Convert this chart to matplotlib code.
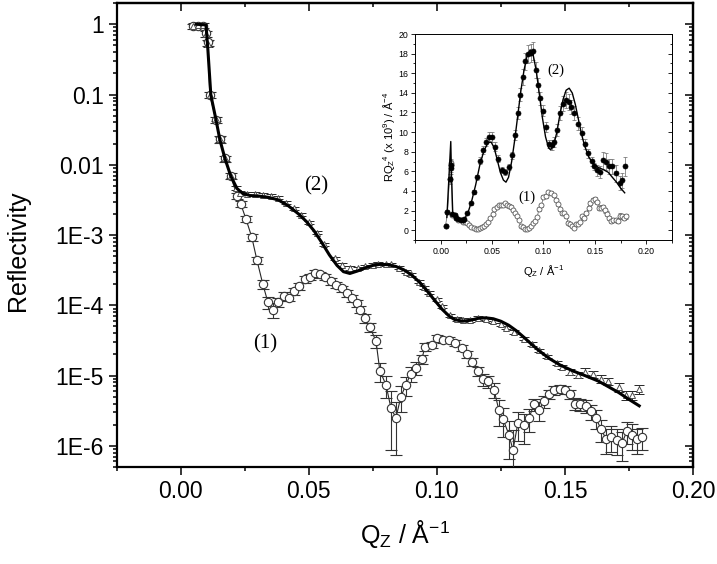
import numpy as np
import matplotlib.pyplot as plt
from matplotlib.ticker import FixedLocator, FixedFormatter, LogLocator, MultipleLocator, NullFormatter

# sample (1): open circles, Q (1/A) and reflectivity
q1 = [0.0047, 0.0066, 0.0086, 0.0098, 0.0105, 0.0113, 0.0137, 0.0152, 0.0172, 0.0195,
      0.0219, 0.0234, 0.0254, 0.0277, 0.0297, 0.0320, 0.0340, 0.0360, 0.0379, 0.0402,
      0.0422, 0.0441, 0.0461, 0.0484, 0.0504, 0.0523, 0.0543, 0.0563, 0.0586, 0.0605,
      0.0629, 0.0648, 0.0668, 0.0688, 0.0699, 0.0719, 0.0738, 0.0762, 0.0777, 0.0801,
      0.0820, 0.0840, 0.0859, 0.0879, 0.0898, 0.0918, 0.0941, 0.0953, 0.0980, 0.1000,
      0.1023, 0.1047, 0.1070, 0.1098, 0.1117, 0.1137, 0.1160, 0.1180, 0.1200, 0.1223,
      0.1242, 0.1258, 0.1281, 0.1297, 0.1316, 0.1340, 0.1359, 0.1379, 0.1398, 0.1418,
      0.1438, 0.1457, 0.1480, 0.1500, 0.1520, 0.1539, 0.1559, 0.1582, 0.1602, 0.1621,
      0.1641, 0.1660, 0.1680, 0.1703, 0.1723, 0.1742, 0.1762, 0.1781, 0.1800]
r1 = [0.93, 0.95, 0.95, 0.74, 0.55, 0.098, 0.044, 0.023, 0.0123, 0.0069,
      3.6e-3, 2.75e-3, 1.70e-3, 9.3e-4, 4.4e-4, 2.0e-4, 1.10e-4, 8.7e-5, 1.10e-4, 1.35e-4,
      1.29e-4, 1.58e-4, 1.86e-4, 2.34e-4, 2.57e-4, 2.88e-4, 2.75e-4, 2.57e-4, 2.19e-4, 1.95e-4,
      1.74e-4, 1.48e-4, 1.26e-4, 1.07e-4, 8.7e-5, 6.5e-5, 4.9e-5, 3.1e-5, 1.17e-5, 7.4e-6,
      3.5e-6, 2.5e-6, 5.0e-6, 7.4e-6, 1.07e-5, 1.29e-5, 1.70e-5, 2.57e-5, 2.75e-5, 3.4e-5,
      3.2e-5, 3.2e-5, 2.9e-5, 2.45e-5, 2.0e-5, 1.58e-5, 1.17e-5, 8.9e-6, 8.3e-6, 6.3e-6,
      3.2e-6, 2.4e-6, 1.45e-6, 8.7e-7, 2.1e-6, 1.95e-6, 2.45e-6, 3.9e-6, 3.2e-6, 4.3e-6,
      5.4e-6, 6.2e-6, 6.5e-6, 6.3e-6, 5.4e-6, 4.0e-6, 3.9e-6, 3.7e-6, 3.1e-6, 2.45e-6,
      1.74e-6, 1.26e-6, 1.35e-6, 1.23e-6, 1.10e-6, 1.62e-6, 1.45e-6, 1.26e-6, 1.35e-6]
# relative error of (1)
e1 = [0.08, 0.08, 0.08, 0.1, 0.1, 0.1, 0.1, 0.1, 0.1, 0.1,
      0.1, 0.1, 0.1, 0.12, 0.12, 0.15, 0.2, 0.25, 0.15, 0.15,
      0.12, 0.12, 0.1, 0.1, 0.1, 0.1, 0.1, 0.1, 0.1, 0.1,
      0.1, 0.1, 0.12, 0.12, 0.12, 0.15, 0.15, 0.2, 0.3, 0.35,
      0.75, 0.7, 0.4, 0.3, 0.25, 0.2, 0.15, 0.12, 0.1, 0.1,
      0.1, 0.1, 0.1, 0.1, 0.12, 0.12, 0.15, 0.2, 0.2, 0.25,
      0.4, 0.45, 0.55, 0.95, 0.45, 0.45, 0.35, 0.2, 0.3, 0.2,
      0.15, 0.15, 0.12, 0.12, 0.15, 0.2, 0.2, 0.2, 0.25, 0.3,
      0.35, 0.4, 0.4, 0.4, 0.45, 0.35, 0.4, 0.4, 0.35]

# sample (2): open triangles
q2 = [0.0047, 0.0066, 0.0086, 0.0098, 0.0105, 0.0113, 0.0137, 0.0152, 0.0172, 0.0195, 0.0215,
      0.023, 0.026, 0.029, 0.032, 0.035, 0.038, 0.041, 0.044, 0.047, 0.050,
      0.053, 0.056, 0.060, 0.063, 0.066, 0.069, 0.072, 0.075, 0.077, 0.080,
      0.082, 0.085, 0.088, 0.090, 0.093, 0.095, 0.097, 0.100, 0.102, 0.105,
      0.108, 0.110, 0.113, 0.116, 0.119, 0.122, 0.125, 0.127, 0.130, 0.134,
      0.137, 0.140, 0.143, 0.147, 0.149, 0.152, 0.155, 0.158, 0.161, 0.164,
      0.167, 0.171, 0.174, 0.176, 0.179]
r2 = [0.95, 0.96, 0.96, 0.72, 0.52, 0.10, 0.045, 0.023, 0.0125, 0.0070, 4.7e-3,
      4.0e-3, 3.9e-3, 3.85e-3, 3.75e-3, 3.6e-3, 3.40e-3, 2.90e-3, 2.40e-3, 1.95e-3, 1.52e-3,
      1.08e-3, 7.41e-4, 4.70e-4, 3.79e-4, 3.40e-4, 3.37e-4, 3.61e-4, 3.77e-4, 3.93e-4, 3.81e-4,
      3.81e-4, 3.44e-4, 3.01e-4, 2.78e-4, 2.18e-4, 1.82e-4, 1.52e-4, 1.22e-4, 9.70e-5, 7.23e-5,
      6.40e-5, 6.14e-5, 6.25e-5, 6.58e-5, 6.44e-5, 6.00e-5, 5.36e-5, 4.83e-5, 4.17e-5, 3.37e-5,
      2.81e-5, 2.29e-5, 1.87e-5, 1.50e-5, 1.32e-5, 1.14e-5, 1.03e-5, 1.14e-5, 1.04e-5, 9.0e-6,
      8.36e-6, 6.78e-6, 5.22e-6, 5.31e-6, 6.34e-6]
e2 = [0.1, 0.1, 0.1, 0.1, 0.1, 0.1, 0.08, 0.08, 0.08, 0.08, 0.06,
      0.05, 0.05, 0.05, 0.05, 0.05, 0.05, 0.05, 0.05, 0.05, 0.05,
      0.05, 0.05, 0.05, 0.05, 0.05, 0.05, 0.05, 0.05, 0.05, 0.05,
      0.05, 0.05, 0.05, 0.05, 0.05, 0.05, 0.05, 0.05, 0.05, 0.05,
      0.06, 0.06, 0.06, 0.06, 0.06, 0.06, 0.06, 0.06, 0.06, 0.06,
      0.06, 0.06, 0.06, 0.06, 0.06, 0.1, 0.1, 0.12, 0.12, 0.12,
      0.12, 0.15, 0.15, 0.15, 0.15]

# model fit for (2)
q_fit = [0.006, 0.0098, 0.0105, 0.0117, 0.0137, 0.0152, 0.0172, 0.0195, 0.0219, 0.0242,
         0.027, 0.030, 0.034, 0.038, 0.042, 0.046, 0.049, 0.052, 0.055, 0.058,
         0.061, 0.0635, 0.066, 0.069, 0.072, 0.075, 0.078, 0.081, 0.084, 0.087,
         0.090, 0.093, 0.096, 0.099, 0.102, 0.105, 0.107, 0.110, 0.113, 0.116,
         0.119, 0.122, 0.125, 0.128, 0.131, 0.134, 0.137, 0.140, 0.144, 0.148,
         0.153, 0.158, 0.163, 0.167, 0.171, 0.175, 0.179]
r_fit = [1.0, 0.98, 0.46, 0.098, 0.044, 0.023, 0.0123, 0.0069, 4.6e-3, 3.9e-3,
         3.65e-3, 3.6e-3, 3.45e-3, 3.17e-3, 2.60e-3, 1.99e-3, 1.56e-3, 1.15e-3, 7.85e-4, 5.21e-4,
         3.69e-4, 3.01e-4, 2.84e-4, 3.08e-4, 3.42e-4, 3.70e-4, 3.84e-4, 3.78e-4, 3.57e-4, 3.21e-4,
         2.72e-4, 2.17e-4, 1.63e-4, 1.19e-4, 8.79e-5, 6.90e-5, 6.25e-5, 5.94e-5, 6.12e-5, 6.52e-5,
         6.64e-5, 6.44e-5, 5.93e-5, 5.21e-5, 4.35e-5, 3.50e-5, 2.78e-5, 2.24e-5, 1.74e-5, 1.42e-5,
         1.17e-5, 9.93e-6, 8.36e-6, 6.93e-6, 5.73e-6, 4.58e-6, 3.71e-6]

ytick_vals = [1, 0.1, 0.01, 1e-3, 1e-4, 1e-5, 1e-6]
ytick_labels = ['1', '0.1', '0.01', '1E-3', '1E-4', '1E-5', '1E-6']

plt.rcParams['font.family'] = ['Liberation Sans', 'DejaVu Sans']
plt.rcParams['mathtext.fontset'] = 'custom'
plt.rcParams['mathtext.rm'] = 'Liberation Sans'
plt.rcParams['mathtext.it'] = 'Liberation Sans'

q1 = np.array(q1); r1 = np.array(r1); e1 = np.array(e1)
q2 = np.array(q2); r2 = np.array(r2); e2 = np.array(e2)
q_fit = np.array(q_fit); r_fit = np.array(r_fit)

fig = plt.figure(figsize=(7.17, 5.64), dpi=100)
ax = fig.add_axes([0.163, 0.172, 0.8035, 0.8225])

ax.plot(q1, r1, '-', color='0.15', lw=0.8, zorder=2)
ax.errorbar(q1, r1, yerr=r1 * e1, fmt='o', ms=6, mfc='white', mec='0.2', mew=0.8,
            ecolor='0.2', elinewidth=0.8, capsize=4.5, capthick=0.9, zorder=3)
ax.errorbar(q2, r2, yerr=r2 * e2, fmt='^', ms=4.5, mfc='white', mec='0.3', mew=0.7,
            ecolor='0.15', elinewidth=0.7, capsize=3.5, capthick=0.8, zorder=3)
ax.plot(q_fit, r_fit, 'k-', lw=2.2, zorder=4)

ax.set_yscale('log')
ax.set_xlim(-0.025, 0.20)
ax.set_ylim(5e-7, 2)
ax.set_xticks([0.0, 0.05, 0.10, 0.15, 0.20])
ax.set_xticklabels(['0.00', '0.05', '0.10', '0.15', '0.20'])
ax.xaxis.set_minor_locator(MultipleLocator(0.025))
ax.yaxis.set_major_locator(FixedLocator(ytick_vals))
ax.yaxis.set_major_formatter(FixedFormatter(ytick_labels))
ax.yaxis.set_minor_locator(LogLocator(base=10, subs=np.arange(2, 10)))
ax.yaxis.set_minor_formatter(NullFormatter())
ax.tick_params(which='both', direction='out', labelsize=16.5, width=1.1)
ax.tick_params(which='major', length=6)
ax.tick_params(which='minor', length=3)
for s in ax.spines.values():
    s.set_linewidth(1.6)

# mirrored ticks pointing inward on top and right
top = ax.secondary_xaxis('top')
top.set_xticks([0.0, 0.05, 0.10, 0.15, 0.20])
top.xaxis.set_minor_locator(MultipleLocator(0.025))
top.tick_params(which='both', direction='in', labeltop=False, width=1.1)
top.tick_params(which='major', length=6)
top.tick_params(which='minor', length=3)
right = ax.secondary_yaxis('right')
right.yaxis.set_major_locator(FixedLocator(ytick_vals))
right.yaxis.set_minor_locator(LogLocator(base=10, subs=np.arange(2, 10)))
right.yaxis.set_minor_formatter(NullFormatter())
right.tick_params(which='both', direction='in', labelright=False, width=1.1)
right.tick_params(which='major', length=6)
right.tick_params(which='minor', length=3)
for s in list(top.spines.values()) + list(right.spines.values()):
    s.set_linewidth(1.6)

ax.set_ylabel('Reflectivity', fontsize=18)
ax.yaxis.set_label_coords(-0.15, 0.467)
ax.set_xlabel('Q$_Z$ / Å$^{-1}$', fontsize=18, labelpad=11)

ax.text(0.0527, 5.0e-3, '(2)', fontsize=15, family='Liberation Serif', ha='center', va='center')
ax.text(0.0328, 2.8e-5, '(1)', fontsize=15, family='Liberation Serif', ha='center', va='center')

# inset: R * Q^4
axin = fig.add_axes([0.5788, 0.5745, 0.3584, 0.3652])
v1 = r1 * q1 ** 4 * 1e9
v2 = r2 * q2 ** 4 * 1e9
v_fit = r_fit * q_fit ** 4 * 1e9
axin.plot(q1, v1, '-', color='0.35', lw=0.5, zorder=2)
axin.errorbar(q1, v1, yerr=v1 * e1 * 0.5, fmt='o', ms=3.6, mfc='white', mec='0.35', mew=0.6,
              ecolor='0.5', elinewidth=0.5, capsize=1.5, capthick=0.5, zorder=3)
axin.errorbar(q2, v2, yerr=v2 * e2, fmt='o', ms=3.6, mfc='black', mec='black', mew=0.5,
              ecolor='0.4', elinewidth=0.5, capsize=1.5, capthick=0.5, zorder=3)
axin.plot(q_fit, v_fit, 'k-', lw=1.0, zorder=4)
axin.set_xlim(-0.025, 0.225)
axin.set_ylim(-1, 20)
axin.set_xticks([0.0, 0.05, 0.10, 0.15, 0.20])
axin.set_xticklabels(['0.00', '0.05', '0.10', '0.15', '0.20'])
axin.xaxis.set_minor_locator(MultipleLocator(0.025))
axin.set_yticks(np.arange(0, 21, 2))
axin.yaxis.set_minor_locator(MultipleLocator(1))
axin.tick_params(which='both', direction='out', labelsize=6.3, width=0.6, pad=2)
axin.tick_params(which='major', length=3)
axin.tick_params(which='minor', length=1.8)
for s in axin.spines.values():
    s.set_linewidth(0.7)
rin = axin.secondary_yaxis('right')
rin.set_yticks(np.arange(0, 21, 2))
rin.yaxis.set_minor_locator(MultipleLocator(1))
rin.tick_params(which='both', direction='in', labelright=False, width=0.6)
rin.tick_params(which='major', length=3)
rin.tick_params(which='minor', length=1.8)
rin.spines['right'].set_linewidth(0.7)
axin.set_xlabel('Q$_Z$ / Å$^{-1}$', fontsize=8, labelpad=5)
axin.set_ylabel('RQ$_Z$$^4$ (x 10$^9$) / Å$^{-4}$', fontsize=8, labelpad=1)
axin.text(0.112, 16.3, '(2)', fontsize=10.5, family='Liberation Serif', ha='center', va='center')
axin.text(0.0837, 3.4, '(1)', fontsize=10.5, family='Liberation Serif', ha='center', va='center')

fig.savefig('out.png', dpi=100)
